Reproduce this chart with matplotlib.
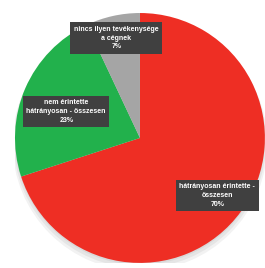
import matplotlib.pyplot as plt
from matplotlib.patches import Circle

# data
labels = ['hátrányosan érintette -\nösszesen',
          'nem érintette\nhátrányosan - összesen',
          'nincs ilyen tevékenysége\na cégnek']
values = [70, 23, 7]
colors = ['#EE2E24', '#22B14C', '#A5A5A5']
label_pos = [(0.62, -0.46), (-0.59, 0.21), (-0.19, 0.80)]

fig = plt.figure(figsize=(2.65, 2.68), dpi=100)
ax = fig.add_axes([0.0566, 0.0187, 0.943, 0.933])

# soft shadow under the pie
for k, a in enumerate([0.05, 0.05, 0.05]):
    ax.add_patch(Circle((0, -0.015 * (k + 1)), 1.0 + 0.01 * k,
                        color='black', alpha=a, lw=0, zorder=0))

wedges, _ = ax.pie(values, colors=colors, startangle=90, counterclock=False,
                   radius=1.0, wedgeprops=dict(linewidth=0))

for lab, v, (x, y) in zip(labels, values, label_pos):
    ax.text(x, y, lab + '\n' + str(v) + '%', ha='center', va='center',
            fontsize=5, fontweight='bold', color='white',
            family=['Liberation Sans', 'DejaVu Sans'], linespacing=1.35,
            bbox=dict(boxstyle='square,pad=0.5', fc='#404040', ec='none'))

ax.set_xlim(-1.0, 1.0)
ax.set_ylim(-1.0, 1.0)
ax.axis('off')

plt.savefig('out.png', dpi=100)
